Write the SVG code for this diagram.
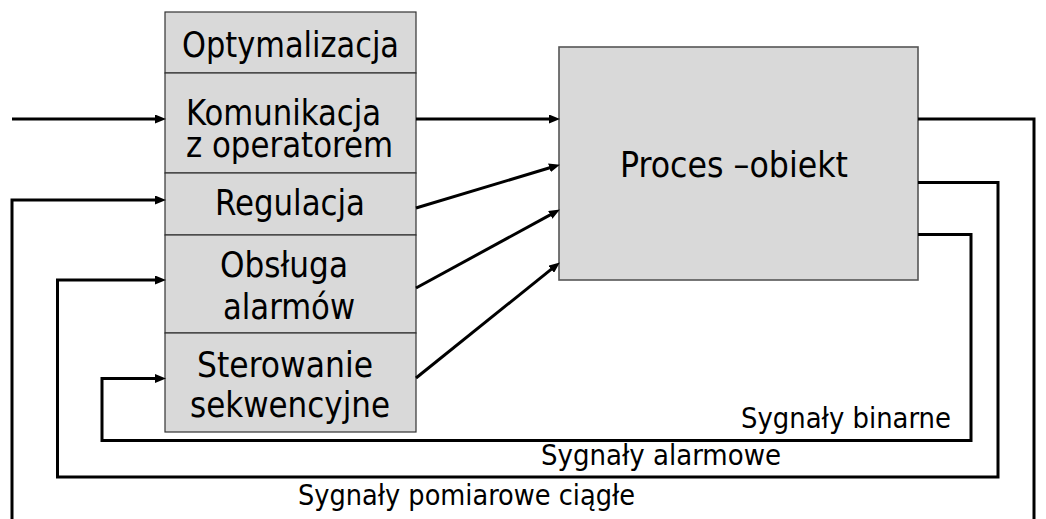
<svg xmlns="http://www.w3.org/2000/svg" width="1046" height="519" viewBox="0 0 1046 519">
  <defs>
    <style>
      .box { fill: #d9d9d9; stroke: #333333; stroke-width: 1.2; }
      .proc { fill: #d9d9d9; stroke: #555555; stroke-width: 1.6; }
      .lbl { font-family: "DejaVu Sans Condensed", "DejaVu Sans", sans-serif; font-stretch: condensed; font-size: 35px; fill: #000000; text-anchor: middle; }
      .sig { font-family: "DejaVu Sans Condensed", "DejaVu Sans", sans-serif; font-stretch: condensed; font-size: 29px; fill: #000000; }
      .wire { fill: none; stroke: #000000; stroke-width: 3; stroke-linejoin: miter; }
    </style>
    <marker id="arrow" markerUnits="userSpaceOnUse" markerWidth="11" markerHeight="9" viewBox="0 0 11 9" refX="3" refY="4.5" orient="auto">
      <path d="M0,0 L11,4.5 L0,9 z" fill="#000000"/>
    </marker>
  </defs>

  <!-- control functions stack -->
  <g id="optymalizacja">
    <rect class="box" x="165" y="12" width="251" height="61"/>
    <text class="lbl" x="290.5" y="57" textLength="217" lengthAdjust="spacingAndGlyphs">Optymalizacja</text>
  </g>
  <g id="komunikacja">
    <rect class="box" x="165" y="73" width="251" height="100"/>
    <text class="lbl" x="283.5" y="125" textLength="195" lengthAdjust="spacingAndGlyphs">Komunikacja</text>
    <text class="lbl" x="289.5" y="157" textLength="207" lengthAdjust="spacingAndGlyphs">z operatorem</text>
  </g>
  <g id="regulacja">
    <rect class="box" x="165" y="173" width="251" height="62"/>
    <text class="lbl" x="290" y="215" textLength="150" lengthAdjust="spacingAndGlyphs">Regulacja</text>
  </g>
  <g id="obsluga">
    <rect class="box" x="165" y="235" width="251" height="98"/>
    <text class="lbl" x="284" y="277" textLength="128" lengthAdjust="spacingAndGlyphs">Obsługa</text>
    <text class="lbl" x="289" y="319" textLength="132" lengthAdjust="spacingAndGlyphs">alarmów</text>
  </g>
  <g id="sterowanie">
    <rect class="box" x="165" y="333" width="251" height="99"/>
    <text class="lbl" x="285" y="377" textLength="176" lengthAdjust="spacingAndGlyphs">Sterowanie</text>
    <text class="lbl" x="290" y="417" textLength="200" lengthAdjust="spacingAndGlyphs">sekwencyjne</text>
  </g>

  <!-- plant -->
  <g id="proces">
    <rect class="proc" x="559" y="47" width="359" height="233"/>
    <text class="lbl" x="734" y="177" textLength="228" lengthAdjust="spacingAndGlyphs">Proces –obiekt</text>
  </g>

  <!-- signal paths -->
  <g id="connectors">
    <path class="wire" d="M12,119 H158" marker-end="url(#arrow)"/>
    <path class="wire" d="M416,119 H552" marker-end="url(#arrow)"/>
    <path class="wire" d="M416,208 L552.3,167" marker-end="url(#arrow)"/>
    <path class="wire" d="M416,288 L552.9,213.4" marker-end="url(#arrow)"/>
    <path class="wire" d="M416,378 L553.6,267.4" marker-end="url(#arrow)"/>

    <!-- continuous measurement loop -->
    <path class="wire" d="M918,119 H1034 V519"/>
    <path class="wire" d="M12,519 V200 H158" marker-end="url(#arrow)"/>
    <!-- alarm loop -->
    <path class="wire" d="M918,182.5 H998 V477 H57.5 V280 H158" marker-end="url(#arrow)"/>
    <!-- binary loop -->
    <path class="wire" d="M918,234.5 H971 V440.5 H102 V378.5 H158" marker-end="url(#arrow)"/>
  </g>

  <!-- signal names -->
  <g id="signal-labels">
    <text class="sig" x="741" y="428" textLength="210" lengthAdjust="spacingAndGlyphs">Sygnały binarne</text>
    <text class="sig" x="541" y="465" textLength="240" lengthAdjust="spacingAndGlyphs">Sygnały alarmowe</text>
    <text class="sig" x="298" y="505" textLength="337" lengthAdjust="spacingAndGlyphs">Sygnały pomiarowe ciągłe</text>
  </g>
</svg>
